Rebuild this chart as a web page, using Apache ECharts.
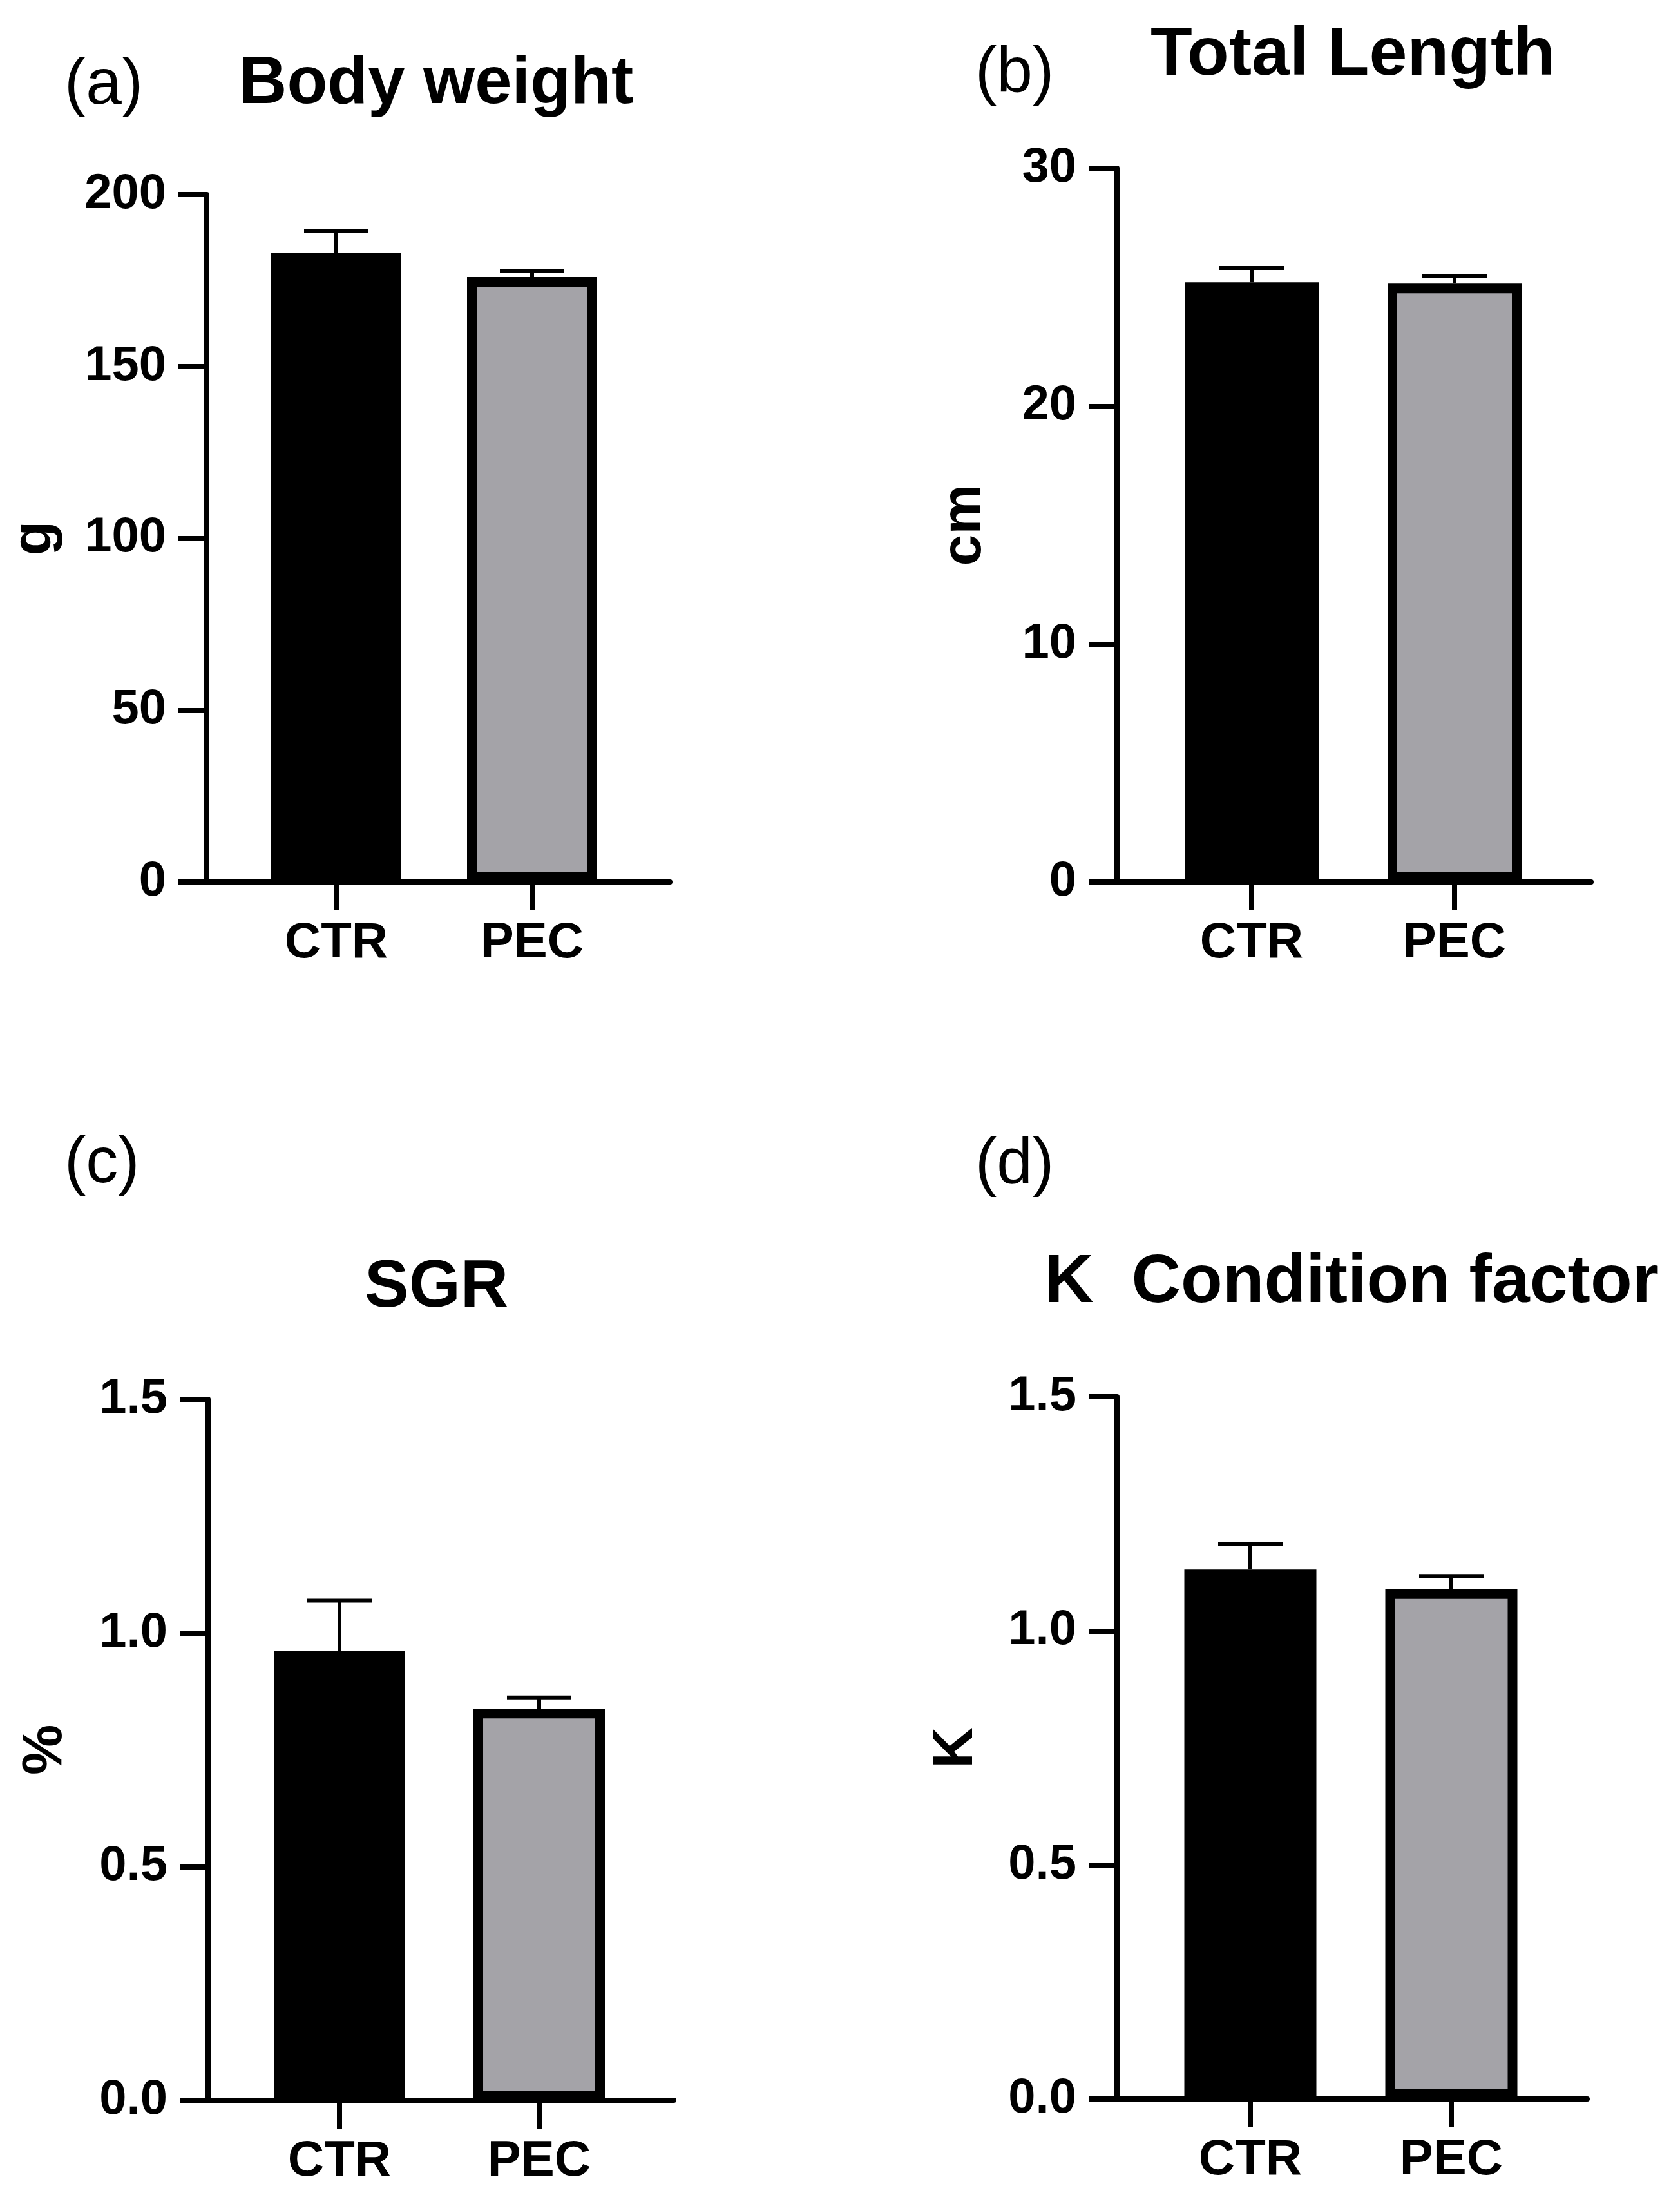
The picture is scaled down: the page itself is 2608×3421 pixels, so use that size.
<!DOCTYPE html>
<html>
<head>
<meta charset="utf-8">
<script src="https://cdn.jsdelivr.net/npm/echarts@6/dist/echarts.min.js"></script>
<style>
html,body{margin:0;padding:0;background:#fff;}
#chart{width:2608px;height:3421px;}
</style>
</head>
<body>
<div id="chart"></div>
<script>
// ---- data ----
const categories = ['CTR', 'PEC'];
const bodyWeightMean = [183, 176];
const bodyWeightSem = [6.3, 1.8];
const totalLengthMean = [25.2, 25.15];
const totalLengthSem = [0.6, 0.3];
const sgrMean = [0.962, 0.838];
const sgrSem = [0.107, 0.024];
const kMean = [1.131, 1.089];
const kSem = [0.055, 0.028];
const yTicksBody = [0, 50, 100, 150, 200];
const yTicksLength = [0, 10, 20, 30];
const yTicksSgr = [0, 0.5, 1.0, 1.5];
const yTicksK = [0, 0.5, 1.0, 1.5];
const panelLetters = ['(a)', '(b)', '(c)', '(d)'];
const panelTitles = ['Body weight', 'Total Length', 'SGR', 'K  Condition factor'];
const axisNames = ['g', 'cm', '%', 'K'];

// ---- layout ----
const W = 2608, H = 3421;
const FONT = "'Liberation Sans', Arial, Helvetica, sans-serif";
const barColors = ['#000000', '#a4a3a8'];

const panels = [
  {mean: bodyWeightMean, sem: bodyWeightSem, ticks: yTicksBody, dec: 0,
   axisX: 321, endX: 1040, top: 302, bottom: 1369, c1: 522, c2: 826, barW: 202, nameGap: 222,
   letter: {x: 100, y: 138}, title: {x: 371, y: 136, size: 103}},
  {mean: totalLengthMean, sem: totalLengthSem, ticks: yTicksLength, dec: 0,
   axisX: 1734, endX: 2470, top: 261, bottom: 1369, c1: 1943, c2: 2258, barW: 208, nameGap: 192,
   letter: {x: 1514, y: 120}, title: {x: 1786, y: 90, size: 106}},
  {mean: sgrMean, sem: sgrSem, ticks: yTicksSgr, dec: 1,
   axisX: 323, endX: 1046, top: 2172, bottom: 3260, c1: 527, c2: 837, barW: 204, nameGap: 208,
   letter: {x: 100, y: 1812}, title: {x: 566, y: 2004, size: 103}},
  {mean: kMean, sem: kSem, ticks: yTicksK, dec: 1,
   axisX: 1734, endX: 2464, top: 2168, bottom: 3258, c1: 1941, c2: 2253, barW: 205, nameGap: 205,
   letter: {x: 1514, y: 1814}, title: {x: 1621, y: 1995, size: 106}}
];

const grid = [], xAxis = [], yAxis = [], series = [], title = [];

panels.forEach((p, i) => {
  const min = p.ticks[0], max = p.ticks[p.ticks.length - 1];
  const interval = p.ticks[1] - p.ticks[0];
  const s = p.c2 - p.c1;
  grid.push({left: p.axisX, width: p.endX - p.axisX, top: p.top, height: p.bottom - p.top, containLabel: false});
  grid.push({left: p.c1 - s / 2, width: 2 * s, top: p.top, height: p.bottom - p.top, containLabel: false});
  const gA = 2 * i, gB = 2 * i + 1;

  xAxis.push({
    gridIndex: gA, type: 'value', min: 0, max: 1,
    axisLine: {show: true, onZero: false, lineStyle: {color: '#000', width: 8}},
    axisTick: {show: false}, axisLabel: {show: false}, splitLine: {show: false}
  });
  xAxis.push({
    gridIndex: gB, type: 'category', data: categories,
    axisLine: {show: false},
    axisTick: {show: true, alignWithLabel: true, length: 44, lineStyle: {color: '#000', width: 8}},
    axisLabel: {show: true, margin: 56, color: '#000', fontFamily: FONT, fontWeight: 'bold', fontSize: 78},
    splitLine: {show: false}
  });
  yAxis.push({
    gridIndex: gA, type: 'value', min: min, max: max, interval: interval,
    name: axisNames[i], nameLocation: 'middle', nameRotate: 90, nameGap: p.nameGap,
    nameTextStyle: {color: '#000', fontFamily: FONT, fontWeight: 'bold', fontSize: 88},
    axisLine: {show: true, lineStyle: {color: '#000', width: 8}},
    axisTick: {show: true, length: 44, lineStyle: {color: '#000', width: 8}},
    axisLabel: {show: true, margin: 63, color: '#000', fontFamily: FONT, fontWeight: 'bold', fontSize: 76,
      formatter: v => v.toFixed(p.dec)},
    splitLine: {show: false}
  });
  yAxis.push({
    gridIndex: gB, type: 'value', min: min, max: max, interval: interval, show: false
  });

  series.push({
    type: 'bar', xAxisIndex: 2 * i + 1, yAxisIndex: 2 * i + 1,
    barWidth: p.barW, clip: false,
    data: p.mean.map((v, k) => ({value: v, itemStyle: {color: barColors[k], borderColor: '#000', borderWidth: 15}})),
    silent: true, animation: false, z: 2
  });
  const capHalf = 50;
  series.push({
    type: 'custom', xAxisIndex: 2 * i + 1, yAxisIndex: 2 * i + 1,
    data: p.mean.map((v, k) => [k, v, p.sem[k]]),
    encode: {x: 0, y: 1},
    renderItem: (params, api) => {
      const x = api.value(0), m = api.value(1), e = api.value(2);
      const b = api.coord([x, m]);
      const t = api.coord([x, m + e]);
      return {
        type: 'group', children: [
          {type: 'line', shape: {x1: b[0], y1: b[1], x2: t[0], y2: t[1]}, style: {stroke: '#000', lineWidth: 6}},
          {type: 'line', shape: {x1: t[0] - capHalf, y1: t[1], x2: t[0] + capHalf, y2: t[1]}, style: {stroke: '#000', lineWidth: 6}}
        ]
      };
    },
    silent: true, animation: false, z: 3
  });

  title.push({
    text: panelLetters[i], left: p.letter.x, top: p.letter.y - 55, padding: 0,
    textStyle: {color: '#000', fontFamily: FONT, fontWeight: 'normal', fontSize: 100}
  });
  title.push({
    text: panelTitles[i], left: p.title.x, top: p.title.y - 56, padding: 0,
    textStyle: {color: '#000', fontFamily: FONT, fontWeight: 'bold', fontSize: p.title.size}
  });
});

const chart = echarts.init(document.getElementById('chart'), null, {renderer: 'canvas'});
chart.setOption({
  backgroundColor: '#ffffff',
  animation: false,
  title: title,
  grid: grid,
  xAxis: xAxis,
  yAxis: yAxis,
  series: series
});
</script>
</body>
</html>
